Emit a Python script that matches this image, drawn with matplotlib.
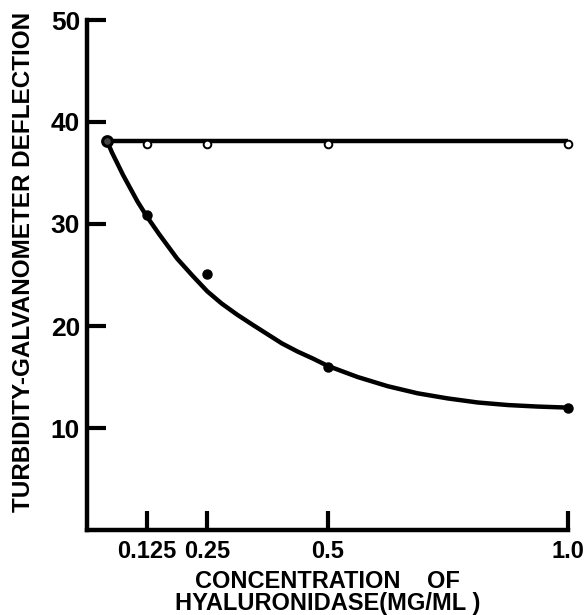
import matplotlib
matplotlib.use("Agg")
import matplotlib.pyplot as plt

# ---- data ----
x_ticks = [0.125, 0.25, 0.5, 1.0]
x_tick_labels = ["0.125", "0.25", "0.5", "1.0"]
y_ticks = [10, 20, 30, 40, 50]
y_tick_labels = ["10", "20", "30", "40", "50"]

# control (no enzyme effect) – open circles and the flat line
control_x = [0.125, 0.25, 0.5, 1.0]
control_y = [37.8, 37.8, 37.8, 37.8]
control_line_x = [0.042, 1.0]
control_line_y = [38.1, 38.1]

# hyaluronidase treated – filled dots
treated_x = [0.042, 0.125, 0.25, 0.5, 1.0]
treated_y = [38.1, 30.9, 25.1, 16.0, 12.0]

# hand-drawn smooth curve
curve_x = [0.042, 0.052, 0.0625, 0.075, 0.09, 0.105, 0.125, 0.15, 0.1875, 0.22, 0.25,
           0.28, 0.3125, 0.345, 0.375, 0.405, 0.4375, 0.47, 0.5, 0.5625, 0.625,
           0.6875, 0.75, 0.8125, 0.875, 0.9375, 1.0]
curve_y = [38.1, 37.0, 36.0, 34.8, 33.5, 32.2, 30.7, 29.0, 26.6, 24.9, 23.4,
           22.2, 21.1, 20.1, 19.2, 18.3, 17.5, 16.8, 16.1, 15.0, 14.1,
           13.4, 12.9, 12.5, 12.25, 12.1, 12.0]

plt.rcParams["font.family"] = ["Liberation Sans", "DejaVu Sans"]
plt.rcParams["font.weight"] = "bold"

fig = plt.figure(figsize=(5.85, 6.15), dpi=100)
ax = fig.add_axes([87 / 585, 1 - 530 / 615, (568 - 87) / 585, (530 - 20) / 615])

lw = 3.2
ax.plot(control_line_x, control_line_y, color="black", lw=lw, solid_capstyle="butt", clip_on=False, zorder=2)
ax.plot(curve_x, curve_y, color="black", lw=lw, solid_capstyle="round", solid_joinstyle="round",
        clip_on=False, zorder=2)
ax.plot(treated_x, treated_y, "o", color="black", ms=6.5, clip_on=False, zorder=3)
ax.plot(control_x, control_y, "o", mfc="white", mec="black", mew=1.4, ms=5.5, clip_on=False, zorder=4)
ax.plot([treated_x[0]], [treated_y[0]], "o", mfc="#444444", mec="black", mew=2.2, ms=7, clip_on=False, zorder=4)

ax.set_xlim(0, 1.0)
ax.set_ylim(0, 50)
for s in ["top", "right"]:
    ax.spines[s].set_visible(False)
for s in ["left", "bottom"]:
    ax.spines[s].set_linewidth(3.2)
    ax.spines[s].set_capstyle("projecting")

ax.set_xticks(x_ticks)
ax.set_xticklabels(x_tick_labels, fontsize=17, fontweight="bold")
ax.set_yticks(y_ticks)
ax.set_yticklabels(y_tick_labels, fontsize=19, fontweight="bold")
ax.tick_params(axis="x", direction="in", length=14, width=3, pad=7)
ax.tick_params(axis="y", direction="in", length=14, width=3, pad=5)

ax.set_ylabel("TURBIDITY-GALVANOMETER DEFLECTION", fontsize=17.5, fontweight="bold")
ax.yaxis.set_label_coords(-0.108, 0.525)
ax.set_xlabel("CONCENTRATION    OF\nHYALURONIDASE(MG/ML )", fontsize=17, fontweight="bold",
              linespacing=0.95, labelpad=5)

fig.savefig("out.png", dpi=100)
